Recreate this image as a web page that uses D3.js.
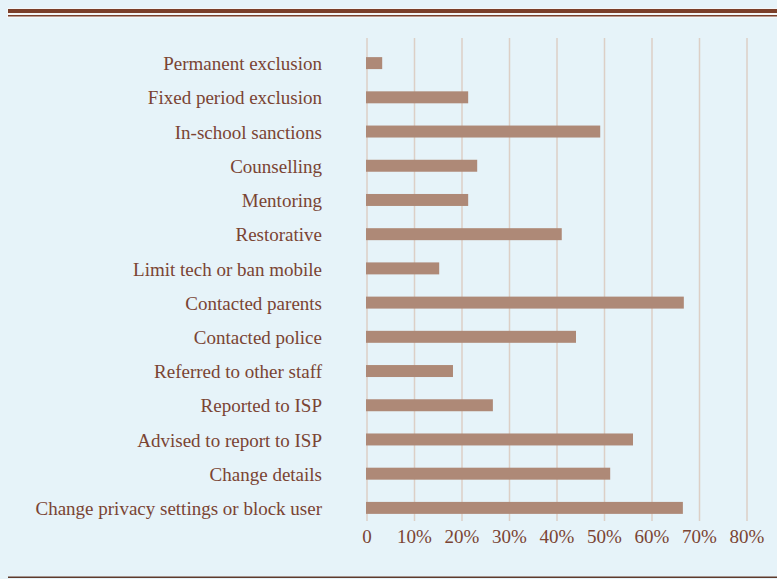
<!DOCTYPE html>
<html>
<head>
<meta charset="utf-8">
<script src="https://cdn.jsdelivr.net/npm/d3@7"></script>
<style>
  body { margin: 0; background: #e6f3f9; }
  svg { display: block; }
  .label { font-family: "Liberation Serif", "DejaVu Serif", serif; fill: #7a4433; }
</style>
</head>
<body>
<div id="chart"></div>
<script>
var categories = ['Permanent exclusion', 'Fixed period exclusion', 'In-school sanctions', 'Counselling',
                  'Mentoring', 'Restorative', 'Limit tech or ban mobile', 'Contacted parents',
                  'Contacted police', 'Referred to other staff', 'Reported to ISP', 'Advised to report to ISP',
                  'Change details', 'Change privacy settings or block user'];
var values = [3.2, 21.3, 49.1, 23.2, 21.3, 41.0, 15.2, 66.7, 44.0, 18.1, 26.5, 56.0, 51.2, 66.5];
var tickValues = [0, 10, 20, 30, 40, 50, 60, 70, 80];
var tickLabels = ['0', '10%', '20%', '30%', '40%', '50%', '60%', '70%', '80%'];

(function(d3) {
	'use strict';

	var width = 777;
	var height = 579;

	var svg = d3.select('#chart')
		.append('svg')
		.attr('width', width)
		.attr('height', height);

	svg.append('rect')
		.attr('width', width)
		.attr('height', height)
		.attr('fill', '#e6f3f9');

	// double rule on top, single rule at the bottom
	svg.append('rect').attr('x', 7).attr('y', 8).attr('width', 770).attr('height', 10).attr('fill', '#f4f6f7');
	svg.append('rect').attr('x', 8).attr('y', 9).attr('width', 769).attr('height', 4).attr('fill', '#7b3f2a');
	svg.append('rect').attr('x', 8).attr('y', 15).attr('width', 769).attr('height', 1.5).attr('fill', '#7b3f2a');
	svg.append('rect').attr('x', 8).attr('y', 576.5).attr('width', 769).attr('height', 1.5).attr('fill', '#5e3a2c');

	var x = d3.scaleLinear()
		.domain([0, 80])
		.range([367, 747]);

	var y = d3.scaleBand()
		.domain(categories)
		.range([46, 525])
		.paddingInner(0.65)
		.paddingOuter(0.325);

	// gridlines
	svg.append('g')
		.selectAll('line')
		.data(tickValues)
		.enter()
		.append('line')
		.attr('x1', function(d) { return x(d); })
		.attr('x2', function(d) { return x(d); })
		.attr('y1', 38)
		.attr('y2', 521)
		.attr('stroke', '#dccfc6')
		.attr('stroke-width', 1.5);

	svg.append('g')
		.selectAll('rect')
		.data(values)
		.enter()
		.append('rect')
		.attr('x', x(0) - 1)
		.attr('y', function(d, i) { return y(categories[i]); })
		.attr('width', function(d) { return x(d) - x(0) + 1; })
		.attr('height', y.bandwidth())
		.attr('fill', '#ae8977');

	svg.append('g')
		.selectAll('text')
		.data(categories)
		.enter()
		.append('text')
		.attr('class', 'label')
		.attr('x', 322)
		.attr('y', function(d) { return y(d) + y.bandwidth() / 2 + 0.5; })
		.attr('dy', '0.35em')
		.attr('text-anchor', 'end')
		.style('font-size', '19px')
		.text(function(d) { return d; });

	svg.append('g')
		.selectAll('text')
		.data(tickValues)
		.enter()
		.append('text')
		.attr('class', 'label')
		.attr('x', function(d) { return x(d); })
		.attr('y', 536)
		.attr('dy', '0.35em')
		.attr('text-anchor', 'middle')
		.style('font-size', '19px')
		.text(function(d, i) { return tickLabels[i]; });

})(window.d3);
</script>
</body>
</html>
